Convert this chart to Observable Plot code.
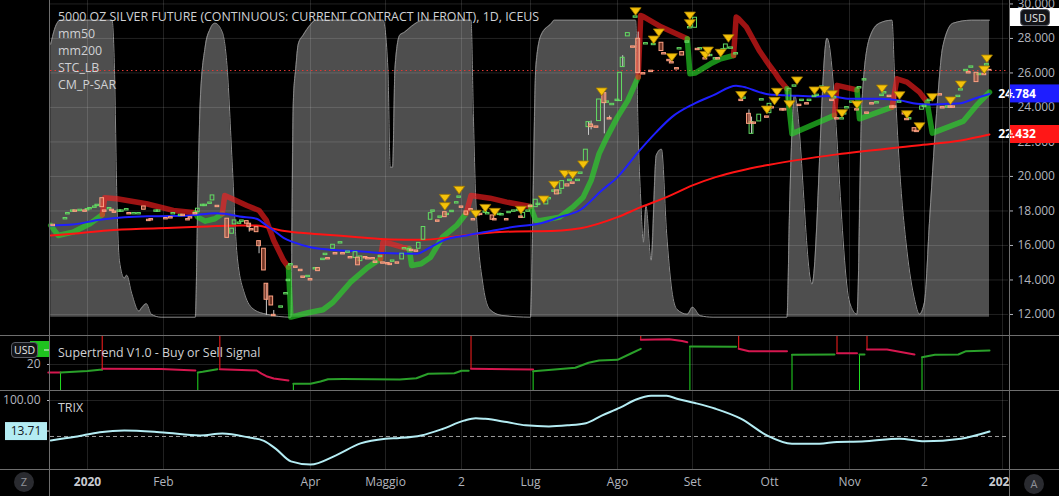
<!DOCTYPE html>
<html>
<head>
<meta charset="utf-8">
<script src="https://cdn.jsdelivr.net/npm/d3@7"></script>
<script src="https://cdn.jsdelivr.net/npm/@observablehq/plot@0.6"></script>
<style>
html,body{margin:0;padding:0;background:#000;overflow:hidden}
#wrap{position:relative;width:1059px;height:496px;background:#000;font-family:"Open Sans","Noto Sans",sans-serif;overflow:hidden}
.layer{position:absolute;left:0}
.t{position:absolute;white-space:nowrap;color:#d0d1d4;font-size:12.4px;line-height:17px}
.hl{position:absolute;background:#6e6e6e;height:1px;left:0;width:1059px}
.vl{position:absolute;background:#6e6e6e;width:1px;top:0;height:496px}
.circ{position:absolute;width:20px;height:20px;border-radius:10px;background:#2a2b30;color:#8f9198;font-size:11px;line-height:20px;text-align:center}
.usd{position:absolute;background:#131418;border:1px solid #5a5d66;border-radius:4px;color:#e8e8e8;font-size:11px;text-align:center}
</style>
</head>
<body>
<div id="wrap"></div>
<script>
// ================= DATA (days counted from 2020-01-01) =================
const tickDays   = [0, 31, 91, 121, 153, 182, 215, 244, 274, 306, 336, 366];
const tickLabels = ["2020","Feb","Apr","Maggio","2","Lug","Ago","Set","Ott","Nov","2","2021"];
const priceTicks = [12, 14, 16, 18, 20, 22, 24, 26, 28, 30];

// candles: [day, open, close]
const candles = [
[-14,17.20,17.12],[-9,17.51,17.59],[-8,17.80,17.88],[-6,17.95,18.03],[-5,18.03,17.95],[-3,17.99,18.07],
[-1,18.03,17.95],[0,18.03,18.11],[1,18.09,18.17],[3,18.18,18.26],[4,18.28,18.36],[6,18.74,18.22],
[7,18.03,17.95],[9,18.09,18.17],[10,18.07,17.99],[11,17.97,17.89],[13,17.95,18.03],[14,17.95,18.03],
[16,18.03,18.11],[17,17.88,17.80],[19,17.80,17.88],[21,17.80,17.88],[23,18.26,18.07],[25,17.49,17.41],
[26,17.53,17.45],[28,17.95,18.03],[29,17.95,18.03],[32,17.59,17.51],[34,17.64,17.56],[35,17.80,17.88],
[38,17.70,17.78],[39,17.78,17.70],[41,17.53,17.45],[42,17.64,17.56],[44,17.88,17.80],[45,17.93,18.13],
[47,18.28,18.36],[48,18.28,18.36],[50,18.41,18.49],[51,18.61,18.90],[53,18.30,18.22],[57,17.55,16.44],
[59,16.68,16.97],[60,17.22,17.45],[62,17.25,17.33],[63,17.37,17.45],[65,17.41,17.26],[66,17.26,17.06],
[67,16.95,16.87],[69,17.06,16.77],[70,16.25,15.96],[72,15.81,14.55],[73,13.78,12.85],[75,13.04,12.52],
[76,11.98,11.90],[79,12.39,12.47],[81,13.16,13.24],[82,13.93,14.01],[83,14.84,14.92],[85,14.78,14.70],
[87,14.59,14.51],[88,14.20,14.12],[90,14.16,14.24],[91,14.05,13.97],[93,14.61,14.69],[94,14.69,14.51],
[96,15.15,15.23],[97,15.44,15.52],[98,15.27,15.19],[100,15.81,16.04],[101,15.56,15.48],[103,16.11,16.19],
[104,15.56,15.48],[106,15.57,15.65],[107,15.33,15.25],[109,15.27,15.61],[110,15.29,14.85],[111,15.09,15.36],
[113,15.33,15.25],[114,15.27,15.19],[116,15.27,15.19],[117,15.07,14.99],[119,15.32,15.40],[120,15.02,14.94],
[122,14.98,14.90],[123,14.94,14.86],[124,15.05,15.13],[126,15.02,14.94],[128,15.19,15.52],[129,15.77,15.85],
[131,15.71,15.79],[132,15.75,15.67],[134,15.71,15.63],[135,15.81,16.15],[137,16.33,17.07],[140,17.49,17.87],
[141,17.95,18.03],[143,17.45,17.37],[144,17.60,17.68],[146,17.93,17.64],[147,17.76,17.84],[149,17.93,18.01],
[151,18.43,18.51],[152,18.76,18.84],[153,18.26,18.18],[155,17.97,17.78],[157,18.11,18.03],[158,17.53,17.45],
[160,17.82,17.74],[161,17.84,17.76],[163,17.89,17.97],[164,17.80,17.88],[166,17.74,17.49],[167,17.53,17.45],
[169,17.76,17.84],[170,17.74,17.82],[172,17.53,17.45],[173,17.87,17.95],[175,17.95,18.03],[177,17.99,18.07],
[178,17.68,17.60],[179,17.60,17.89],[181,17.95,18.03],[182,18.30,18.22],[184,18.22,18.65],[185,18.34,18.42],
[187,18.61,18.69],[188,18.38,18.61],[189,18.67,18.75],[191,19.11,19.19],[192,19.19,18.96],[193,19.00,19.19],
[194,19.28,19.73],[196,19.54,19.42],[197,19.73,19.81],[198,19.65,19.57],[200,19.73,19.81],[201,20.15,20.23],
[203,20.77,21.55],[204,22.86,23.15],[205,23.01,22.86],[207,22.90,22.82],[208,23.21,24.46],[210,24.83,24.25],
[211,24.27,24.35],[212,23.38,23.30],[213,24.13,24.21],[215,24.37,24.45],[216,24.37,26.01],[217,26.34,26.88],
[219,28.12,28.31],[221,27.54,27.46],[222,29.20,29.28],[223,27.98,25.99],[225,25.99,25.91],[226,27.65,27.73],
[228,26.13,26.05],[229,27.61,27.69],[232,27.75,27.27],[233,27.15,27.07],[235,26.76,26.68],[236,26.63,26.55],
[238,26.28,26.20],[239,27.36,27.44],[240,27.21,27.01],[242,27.75,27.83],[243,28.58,28.66],[245,28.62,29.20],
[246,27.40,27.32],[247,27.36,27.44],[249,26.86,26.78],[250,27.05,26.97],[251,26.97,27.05],[253,26.78,26.86],
[254,26.86,26.78],[256,27.30,27.38],[257,27.40,27.65],[259,27.40,27.48],[261,27.07,27.15],[263,24.45,24.37],
[264,24.50,24.58],[266,23.63,23.05],[267,22.47,23.15],[268,23.13,23.05],[270,23.19,23.58],[271,24.40,24.48],
[273,23.48,23.40],[274,23.67,24.21],[275,24.02,23.94],[279,23.90,23.82],[280,23.90,23.82],[282,24.35,25.08],
[284,25.20,25.28],[286,24.16,24.08],[287,24.37,24.45],[289,24.25,24.17],[290,24.37,24.45],[292,24.60,24.68],
[293,24.66,24.74],[295,25.14,25.22],[296,25.18,25.10],[297,25.08,25.16],[299,24.45,24.37],[300,24.52,24.60],
[301,23.38,23.30],[303,23.30,23.38],[304,23.59,23.67],[305,23.94,24.02],[307,24.27,24.35],[309,23.90,23.82],
[310,25.10,25.18],[312,25.56,25.64],[313,23.71,23.63],[315,24.25,24.17],[317,24.23,24.31],[319,24.66,24.74],
[320,24.81,24.89],[322,24.68,24.60],[323,24.06,23.98],[324,24.06,23.98],[326,24.27,24.35],[328,23.67,23.59],
[329,23.34,23.26],[330,23.30,23.38],[332,22.80,22.61],[333,22.65,22.57],[335,23.87,24.06],[336,24.02,24.10],
[338,24.37,24.45],[342,24.77,24.69],[343,24.02,23.94],[345,23.98,24.06],[346,24.06,23.98],[347,24.06,23.98],
[349,24.60,24.68],[350,24.98,25.06],[352,26.10,26.18],[353,26.05,25.97],[354,26.30,26.38],[356,26.01,25.47],
[357,25.87,25.95],[359,25.95,25.87],[360,26.43,26.51],[361,26.18,26.14]
];
// wicks: [day, high, low]
const wicks = [[66,17.26,16.77],[70,16.25,15.52],[73,13.78,11.94],[76,12.23,11.90],[204,23.15,22.38],
[205,23.21,22.70],[210,24.83,22.47],[212,23.50,23.30],[217,27.00,26.34],[223,28.37,25.95],[266,23.86,23.05],[267,23.44,22.47]];

// CM_P-SAR sell markers: [day, price]
const sellMarks = [[146,18.76],[146,18.28],[152,19.23],[159,17.84],[163,18.18],[167,17.95],[178,18.07],[187,18.67],
[191,19.52],[195,20.15],[198,20.10],[202,20.70],[209,24.93],[222,29.58],[229,27.94],[231,28.35],[236,26.92],
[243,29.33],[243,28.89],[249,27.05],[250,27.30],[255,27.17],[258,28.02],[263,24.72],[273,23.88],[276,24.39],
[277,24.91],[282,24.19],[285,25.57],[292,24.99],[296,25.02],[299,24.77],[303,23.67],[309,24.17],[319,25.10],
[326,24.71],[329,23.61],[334,22.91],[339,24.60],[346,24.41],[350,25.33],[359,26.20],[360,26.84]];

const mm50 = [[-15,17.16],[-6,17.22],[5,17.49],[15,17.64],[28,17.70],[42,17.74],[52,17.87],[56,17.84],[62,17.68],
[69,17.55],[73,17.16],[76,16.87],[80,16.44],[84,16.19],[91,15.90],[99,15.75],[110,15.67],[120,15.56],[134,15.52],
[140,15.90],[146,16.33],[155,16.58],[165,16.83],[176,17.10],[186,17.29],[193,17.64],[201,18.07],[209,19.19],
[215,19.96],[223,21.41],[230,22.57],[236,23.44],[244,24.17],[252,24.70],[261,25.26],[265,25.15],[270,24.89],
[274,24.75],[282,24.70],[292,24.64],[298,24.66],[306,24.50],[318,24.50],[326,24.41],[333,24.21],[338,24.17],
[345,24.21],[350,24.25],[355,24.50],[361,24.784]];

const mm200 = [[-15,16.58],[-6,16.68],[8,16.87],[22,16.97],[35,17.02],[49,17.10],[62,17.16],[69,17.16],[73,17.06],
[79,16.87],[87,16.73],[96,16.64],[110,16.48],[123,16.35],[137,16.33],[148,16.48],[160,16.68],[176,16.81],[186,16.82],
[201,17.00],[215,17.64],[224,18.22],[234,18.80],[244,19.48],[253,19.96],[263,20.35],[274,20.68],[301,21.28],
[333,21.80],[350,22.09],[361,22.432]];

// STC_LB oscillator (0-100)
const stc = [[-15,91],[-13,97],[-11,99],[10,99],[11,83],[12,39],[13,19],[15,13],[16,14],[18,8],[21,2],[22,3],[24,4.5],
[26,1],[30,0],[44,0],[45,39],[46,72],[48,90],[50,96],[52,98],[55,95],[57,83],[59,52],[61,21],[64,8],[68,2.5],[73,1],
[83,0],[84,72],[85,83],[86,91],[88,94],[91,97.5],[93,99],[120,99],[122,83],[123,50],[124,50],[125,83],[127,94],
[129,95],[132,97],[137,99],[157,99],[158,67],[159,39],[162,11],[165,2.5],[170,0.6],[182,0],[183,40],[184,83],
[186,94],[190,98],[191,99],[222,99],[223,61],[224,39],[225,25],[226,37],[228,19],[230,54],[232,56],[234,28],
[236,9],[238,2.6],[242,1],[244,3.3],[247,0.5],[252,0],[281,0],[282,35],[283,62],[284,74],[291,11],[297,93],
[306,5],[309,1],[311,72],[314,93],[318,98],[323,99],[324,81],[326,50],[329,22],[332,6],[334,1],[336,5],[338,33],
[341,72],[343,90],[347,98],[354,99],[361,99]];

// CM_P-SAR trailing stop segments
const psarSegments = [
 {trend:"up",   pts:[[-15,17.16],[-12,16.58],[-6,16.77],[1,17.26],[6,17.78]]},
 {trend:"down", pts:[[6,17.78],[7,18.76],[12,18.71],[24,18.42],[35,18.03],[44,17.89]]},
 {trend:"up",   pts:[[44,17.89],[45,17.64],[48,17.41],[52,17.55],[55,17.84]]},
 {trend:"down", pts:[[55,17.84],[56,18.90],[59,18.71],[65,18.32],[70,18.03],[73,17.45],[76,16.29],[80,15.13],[82,14.74]]},
 {trend:"up",   pts:[[82,14.74],[83,11.85],[90,12.10],[96,12.27],[100,12.71],[107,13.87],[114,14.74],[119,15.23]]},
 {trend:"down", pts:[[119,15.23],[120,16.19],[123,16.10],[128,15.90],[131,15.81]]},
 {trend:"up",   pts:[[131,15.81],[132,14.84],[136,14.94],[140,15.32],[145,16.48],[151,17.16],[155,17.87]]},
 {trend:"down", pts:[[155,17.87],[157,18.90],[165,18.74],[172,18.51],[182,18.26]]},
 {trend:"up",   pts:[[182,18.26],[184,17.45],[186,17.45],[193,17.64],[198,18.22],[202,18.80],[205,19.77],[208,21.31],[211,22.28],[215,23.44],[219,24.41],[223,25.76]]},
 {trend:"down", pts:[[223,25.76],[224,29.33],[225,29.27],[232,28.66],[242,27.98]]},
 {trend:"up",   pts:[[242,27.98],[243,25.95],[245,25.99],[251,26.53],[255,26.82],[260,27.01]]},
 {trend:"down", pts:[[260,27.01],[261,29.24],[262,29.14],[265,28.66],[270,27.30],[274,26.43],[276,26.05],[278,25.60],[281,25.08]]},
 {trend:"up",   pts:[[281,25.08],[283,22.47],[300,23.54]]},
 {trend:"down", pts:[[300,23.54],[301,25.28],[309,25.02]]},
 {trend:"up",   pts:[[309,25.02],[310,23.34],[323,24.02]]},
 {trend:"down", pts:[[323,24.02],[325,25.66],[329,25.47],[334,24.89],[337,24.31]]},
 {trend:"up",   pts:[[337,24.31],[339,22.51],[351,23.21],[356,24.12],[361,24.89]]}
];

// Supertrend V1.0
const stSegments = [
 {trend:"down", pts:[[-16,16.92],[-11,16.92]]},
 {trend:"up",   pts:[[-11,16.92],[0,17.50],[5,17.96],[6,17.96]]},
 {trend:"down", pts:[[6,18.35],[30,18.30],[44,17.69]]},
 {trend:"up",   pts:[[45,16.92],[47,17.20],[53,18.19]]},
 {trend:"down", pts:[[54,18.19],[69,17.69],[71,16.50],[73,15.50],[76,14.62],[82,13.85]]},
 {trend:"up",   pts:[[84,12.58],[91,12.58],[95,13.46],[98,14.35],[104,14.40],[127,14.23],[134,14.73],[139,16.42],[150,16.65],[153,17.58],[156,17.58]]},
 {trend:"down", pts:[[157,18.35],[183,18.08]]},
 {trend:"up",   pts:[[183,17.42],[190,17.96],[199,18.73],[204,20.65],[208,21.54],[215,21.81],[220,24.12],[224,26.04]]},
 {trend:"down", pts:[[224,29.50],[235,29.73],[240,29.00],[242,28.58]]},
 {trend:"up",   pts:[[243,26.92],[261,26.81]]},
 {trend:"down", pts:[[262,26.04],[266,25.12],[281,25.12]]},
 {trend:"up",   pts:[[283,23.73],[300,23.85]]},
 {trend:"down", pts:[[301,24.35],[309,24.35]]},
 {trend:"up",   pts:[[310,23.85],[312,23.85]]},
 {trend:"down", pts:[[313,25.77],[321,25.77],[332,23.85]]},
 {trend:"up",   pts:[[335,22.81],[340,23.73],[349,23.85],[352,25.12],[361,25.38]]}
];
const stSell = [[6,18.35],[54,18.19],[157,18.35],[224,29.50],[262,26.04],[301,24.35],[313,25.77]];
const stBuy  = [[-11,16.92],[45,16.92],[84,12.58],[183,17.42],[243,26.92],[283,23.73],[310,23.85],[335,22.81]];

// TRIX
const trix = [[-15,-11],[-5,-1],[5,12],[15,17],[31,11],[46,3],[55,8],[66,-3],[72,-12],[77,-35],[83,-69],[91,-78],
[101,-53],[111,-19],[121,-6],[127,-4],[136,3],[145,21],[154,44],[159,51],[163,49],[172,40],[180,31],[189,28],
[196,31],[203,37],[209,58],[216,80],[222,102],[228,113],[234,113],[238,105],[245,93],[253,77],[263,49],[273,3],
[283,-20],[294,-20],[301,-15],[311,-14],[326,-6],[336,-13],[350,-6],[361,13.71]];

// ================= HELPERS =================
const DAY0 = Date.UTC(2020, 0, 1);
const toDate = d => new Date(DAY0 + d * 864e5);
const W = 1059;
// trading-day axis: piecewise time scale anchored on the labelled ticks
const xBreakDays = [-15.1, ...tickDays, 368.3];
const xBreakPx = [50, 87, 163, 310, 385, 461, 530, 617, 692, 769, 849, 924, 1002, 1008];
const xScale = () => ({type: "utc", domain: xBreakDays.map(toDate), range: xBreakPx, axis: null, label: null});
const tickDates = tickDays.map(toDate);
const labelOf = new Map(tickDates.map((d, i) => [+d, tickLabels[i]]));
const FONT = '"Open Sans","Noto Sans",sans-serif';
const baseStyle = {background: "transparent", color: "#b2b5be", fontFamily: FONT, fontSize: "12px"};
const grid = {stroke: "#ffffff", strokeOpacity: 0.13};
const margins = {marginLeft: 50, marginRight: 51};
const X = d => toDate(d[0]), Y = d => d[1];

const triDown = {draw(ctx, size) {
  const r = Math.sqrt(size / Math.PI);
  ctx.moveTo(-1.2 * r, -0.75 * r); ctx.lineTo(1.2 * r, -0.75 * r); ctx.lineTo(0, 0.9 * r); ctx.closePath();
}};

const wrap = document.getElementById("wrap");
function place(el, top) { const d = document.createElement("div"); d.className = "layer"; d.style.top = top + "px"; d.appendChild(el); wrap.appendChild(d); return el; }

// ---------- STC layer (beneath) ----------
const stcPlot = Plot.plot({
  width: W, height: 335, ...margins, marginTop: 0, marginBottom: 0,
  style: {...baseStyle, background: "#000"},
  x: xScale(), y: {domain: [0, 100], range: [316.7, 16.7], axis: null, label: null},
  marks: [
    Plot.areaY(stc, {x: X, y: Y, fill: "#4e4e4e", curve: "monotone-x"}),
    Plot.lineY(stc, {x: X, y: Y, stroke: "#8a8a8a", strokeWidth: 1, curve: "monotone-x"})
  ]
});
place(stcPlot, 0);

// ---------- main price pane ----------
const cand = candles.map(([d, o, c]) => ({d, o, c, up: c >= o}));
const psarPts = psarSegments.flatMap((s, i) => s.pts.map(([d, v]) => ({d, v, seg: i,
  color: s.trend === "up" ? "rgba(40,225,40,0.62)" : "rgba(255,30,30,0.62)"})));
const lastClose = candles[candles.length - 1][2];
const half = 0.75;
const main = Plot.plot({
  width: W, height: 335, ...margins, marginTop: 0, marginBottom: 0,
  style: baseStyle,
  x: xScale(), y: {domain: [10.78, 30.2], axis: null, label: null},
  marks: [
    Plot.gridX(tickDates, grid),
    Plot.gridY(priceTicks, grid),
    Plot.axisY(priceTicks, {anchor: "right", label: null, tickFormat: d3.format(".3f"), tickSize: 4, tickPadding: 5, stroke: "#b2b5be", fill: "#b2b5be"}),
    Plot.ruleY([lastClose], {stroke: "#e53935", strokeDasharray: "1.5,3"}),
    Plot.line(psarPts, {x: d => toDate(d.d), y: d => d.v, z: "seg", stroke: "color", strokeWidth: 5.5, strokeLinejoin: "round"}),
    Plot.line(mm200, {x: X, y: Y, stroke: "#ff1414", strokeWidth: 2, curve: "monotone-x"}),
    Plot.line(mm50, {x: X, y: Y, stroke: "#1f1fff", strokeWidth: 2, curve: "monotone-x"}),
    Plot.ruleX(wicks, {x: X, y1: d => d[1], y2: d => d[2], stroke: "#c8c8c8", strokeWidth: 1}),
    Plot.rect(cand, {filter: d => d.up, x1: d => toDate(d.d - half), x2: d => toDate(d.d + half), y1: d => d.o, y2: d => d.c,
      fill: "none", stroke: "#63dc63", strokeWidth: 1}),
    Plot.rect(cand, {filter: d => !d.up, x1: d => toDate(d.d - half), x2: d => toDate(d.d + half), y1: d => d.o, y2: d => d.c,
      fill: "#e0674a", fillOpacity: 0.5, stroke: "#ffa283", strokeWidth: 1}),
    Plot.dot(sellMarks, {x: X, y: Y, symbol: triDown, r: 4.6, fill: "#f5c20a", stroke: "#a37c00", strokeWidth: 0.8})
  ]
});
place(main, 0);
{
  const ys = main.scale("y"), svg = d3.select(main);
  [[mm50[mm50.length - 1][1], "#1e1eff"], [mm200[mm200.length - 1][1], "#ff1717"]].forEach(([v, col]) => {
    const y = ys.apply(v);
    svg.append("rect").attr("x", 1009).attr("y", y - 9).attr("width", 50).attr("height", 18).attr("fill", col);
    svg.append("line").attr("x1", 1009).attr("x2", 1013).attr("y1", y).attr("y2", y).attr("stroke", "#fff");
    svg.append("text").attr("x", 1017).attr("y", y).attr("dy", "0.35em").attr("fill", "#fff")
      .attr("font-weight", "bold").attr("font-size", 12).attr("font-family", FONT).text(v.toFixed(3));
  });
}

// ---------- Supertrend pane ----------
const stDomain = [10, 31.15];
const stPts = stSegments.flatMap((s, i) => s.pts.map(([d, v]) => ({d, v, seg: i,
  color: s.trend === "up" ? "#2aa02a" : "#d5174f"})));
const st = Plot.plot({
  width: W, height: 55, ...margins, marginTop: 0, marginBottom: 0,
  style: baseStyle,
  x: xScale(), y: {domain: stDomain, axis: null, label: null},
  marks: [
    Plot.gridX(tickDates, grid),
    Plot.gridY([20], grid),
    Plot.axisY([20], {anchor: "left", label: null, tickSize: 3, tickPadding: 7, stroke: "#b2b5be", fill: "#b2b5be"}),
    Plot.ruleX(stSell, {x: X, y1: Y, y2: () => stDomain[1], stroke: "#ff1f1f", strokeWidth: 1}),
    Plot.ruleX(stBuy, {x: X, y1: Y, y2: () => stDomain[0], stroke: "#22dd22", strokeWidth: 1}),
    Plot.line(stPts, {x: d => toDate(d.d), y: d => d.v, z: "seg", stroke: "color", strokeWidth: 2})
  ]
});
place(st, 335);
{
  const lastSt = stSegments[stSegments.length - 1].pts.slice(-1)[0][1];
  const y = st.scale("y").apply(lastSt), svg = d3.select(st);
  svg.append("rect").attr("x", 30).attr("y", y - 9).attr("width", 19).attr("height", 16).attr("fill", "#1fc21f");
  svg.append("line").attr("x1", 44).attr("x2", 49).attr("y1", y).attr("y2", y).attr("stroke", "#eee");
}

// ---------- TRIX pane + time axis ----------
const trDomain = [-91.7, 127.8];
const isYear = tickLabels.map(l => /^\d{4}$/.test(l));
const tr = Plot.plot({
  width: W, height: 106, ...margins, marginTop: 0, marginBottom: 27,
  style: baseStyle,
  x: xScale(), y: {domain: trDomain, axis: null, label: null},
  marks: [
    Plot.gridX(tickDates, grid),
    Plot.gridY([100], grid),
    Plot.ruleY([0], {stroke: "#9a9a9a", strokeDasharray: "4,3"}),
    Plot.axisY([100], {anchor: "left", label: null, tickSize: 3, tickPadding: 7, tickFormat: d3.format(".2f"), stroke: "#b2b5be", fill: "#b2b5be"}),
    Plot.line(trix, {x: X, y: Y, stroke: "#b4ecf3", strokeWidth: 2, curve: "monotone-x"}),
    Plot.axisX(tickDates.filter((d, i) => !isYear[i]), {label: null, tickSize: 0, tickPadding: 8, tickFormat: d => labelOf.get(+d), fill: "#b2b5be"}),
    Plot.axisX(tickDates.filter((d, i) => isYear[i]), {label: null, tickSize: 0, tickPadding: 8, tickFormat: d => labelOf.get(+d), fill: "#c8cad0", fontWeight: "bold"})
  ]
});
place(tr, 390);
{
  const lastTrix = trix[trix.length - 1][1];
  const y = tr.scale("y").apply(lastTrix), svg = d3.select(tr);
  svg.append("rect").attr("x", 5).attr("y", y - 9).attr("width", 42).attr("height", 18).attr("fill", "#b4ecf3");
  svg.append("line").attr("x1", 47).attr("x2", 50).attr("y1", y).attr("y2", y).attr("stroke", "#ddd");
  svg.append("text").attr("x", 26).attr("y", y).attr("dy", "0.35em").attr("text-anchor", "middle").attr("fill", "#131722")
    .attr("font-size", 12).attr("font-family", FONT).text(lastTrix.toFixed(2));
}

// ---------- chrome: borders, legends, badges ----------
function div(cls, css, html) { const d = document.createElement("div"); d.className = cls; Object.assign(d.style, css); if (html != null) d.innerHTML = html; wrap.appendChild(d); return d; }
div("", {position: "absolute", left: "1010px", top: "470px", width: "49px", height: "26px", background: "#000"});
[335, 390, 469].forEach(y => div("hl", {top: y + "px"}));
[49, 1009].forEach(x => div("vl", {left: x + "px"}));
div("", {position: "absolute", left: "1010px", top: "8px", width: "49px", height: "18px", background: "#fff"});
div("usd", {left: "1020px", top: "9px", width: "28px", height: "15px", lineHeight: "15px"}, "USD");
div("usd", {left: "11px", top: "342px", width: "25px", height: "14px", lineHeight: "14px", fontSize: "10.5px"}, "USD");
div("t", {left: "58px", top: "8px"}, "5000 OZ SILVER FUTURE (CONTINUOUS: CURRENT CONTRACT IN FRONT), 1D, ICEUS<br>mm50<br>mm200<br>STC_LB<br>CM_P-SAR");
div("t", {left: "58px", top: "344px"}, "Supertrend V1.0 - Buy or Sell Signal");
div("t", {left: "58px", top: "399px"}, "TRIX");
div("circ", {left: "14px", top: "472px"}, "Z");
div("circ", {left: "1024px", top: "474px"}, "A");
</script>
</body>
</html>
